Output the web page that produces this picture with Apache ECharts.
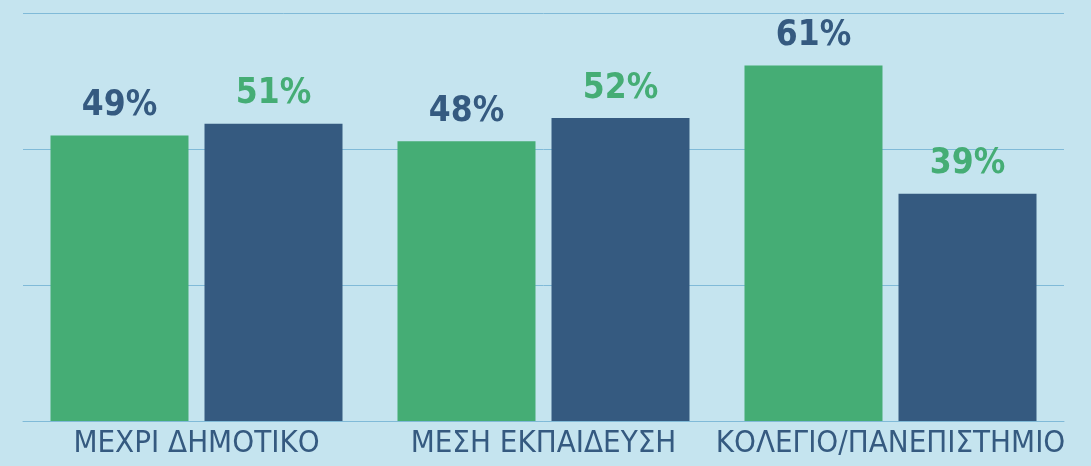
<!DOCTYPE html>
<html>
<head>
<meta charset="utf-8">
<script src="https://cdn.jsdelivr.net/npm/echarts@6/dist/echarts.min.js"></script>
<style>
  html, body { margin: 0; padding: 0; background: #c5e4ef; }
  #chart { width: 1091px; height: 466px; }
</style>
</head>
<body>
<div id="chart"></div>
<script>
var categories = ['ΜΕΧΡΙ ΔΗΜΟΤΙΚΟ', 'ΜΕΣΗ ΕΚΠΑΙΔΕΥΣΗ', 'ΚΟΛΕΓΙΟ/ΠΑΝΕΠΙΣΤΗΜΙΟ'];
var greenValues = [49, 48, 61];
var blueValues = [51, 52, 39];

var green = '#45ad75';
var blue = '#355a80';
var font = '"DejaVu Sans Condensed", sans-serif';

var myChart = echarts.init(document.getElementById('chart'));

var option = {
  backgroundColor: '#c5e4ef',
  animation: false,
  grid: { left: 23, right: 27, top: 13, bottom: 45 },
  xAxis: {
    type: 'category',
    data: categories,
    axisLine: { lineStyle: { color: '#80bad8', width: 1 } },
    axisTick: { show: false },
    axisLabel: {
      interval: 0,
      color: blue,
      fontFamily: font,
      fontSize: 31,
      margin: 7
    }
  },
  yAxis: {
    type: 'value',
    min: 0,
    max: 70,
    interval: 70 / 3,
    axisLabel: { show: false },
    axisLine: { show: false },
    axisTick: { show: false },
    splitLine: { lineStyle: { color: '#80bad8', width: 1 } }
  },
  series: [
    {
      type: 'bar',
      data: greenValues,
      itemStyle: { color: green },
      barWidth: 138,
      barGap: '11.6%',
      label: {
        show: true,
        position: 'top',
        distance: 12,
        formatter: '{c}%',
        color: blue,
        fontFamily: font,
        fontWeight: 'bold',
        fontSize: 35
      }
    },
    {
      type: 'bar',
      data: blueValues,
      itemStyle: { color: blue },
      barWidth: 138,
      label: {
        show: true,
        position: 'top',
        distance: 12,
        formatter: '{c}%',
        color: green,
        fontFamily: font,
        fontWeight: 'bold',
        fontSize: 35
      }
    }
  ]
};

myChart.setOption(option);
</script>
</body>
</html>
